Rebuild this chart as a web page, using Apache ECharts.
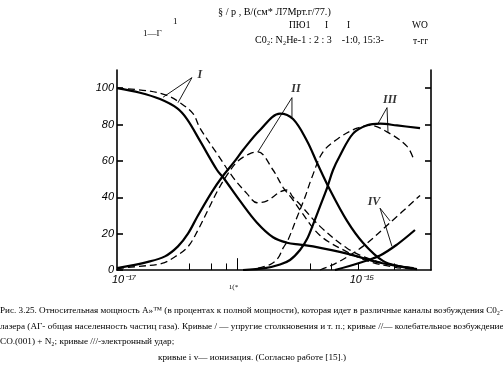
<!DOCTYPE html>
<html><head><meta charset="utf-8">
<script src="https://cdn.jsdelivr.net/npm/echarts@6/dist/echarts.min.js"></script>
<style>html,body{margin:0;padding:0;background:#fff}#c{width:503px;height:380px}</style>
</head><body><div id="c"></div>
<script>
// x values are given as log10 of the abscissa; y in percent
const solidI = [[-17.000,100],[-16.809,97.5],[-16.643,94],[-16.502,89],[-16.419,83],[-16.311,71],[-16.170,55],[-16.120,51],[-15.979,38],[-15.838,26],[-15.705,18],[-15.589,15],[-15.481,14],[-15.373,13],[-15.091,9],[-14.817,4],[-14.544,1]];
const dashedI = [[-17.000,100],[-16.751,98.6],[-16.585,96],[-16.477,92],[-16.369,86],[-16.311,78],[-16.170,64],[-16.037,51],[-15.921,42],[-15.838,37],[-15.755,38],[-15.647,43],[-15.589,44],[-15.539,40],[-15.481,36],[-15.315,24],[-15.091,12],[-14.900,6],[-14.651,2],[-14.510,1]];
const solidII = [[-17.000,1],[-16.743,4.5],[-16.602,7.5],[-16.494,13],[-16.411,20],[-16.328,30],[-16.212,43],[-16.129,51],[-16.021,60],[-15.954,66],[-15.813,77],[-15.647,86],[-15.539,83],[-15.423,71],[-15.340,59],[-15.232,44],[-15.091,27],[-14.959,15],[-14.793,5],[-14.651,2],[-14.510,0.5]];
const dashedII = [[-17.000,0.8],[-16.851,1.8],[-16.627,3.6],[-16.519,7.3],[-16.411,12.8],[-16.328,22],[-16.245,33],[-16.162,44],[-16.079,53],[-15.996,60],[-15.896,64],[-15.830,65],[-15.705,55],[-15.622,45.5],[-15.539,38.5],[-15.481,33],[-15.315,19],[-15.091,10],[-14.900,4.5],[-14.693,1.5],[-14.527,0.5]];
const solidIII = [[-15.954,0],[-15.772,1],[-15.647,3],[-15.564,5.5],[-15.481,11],[-15.423,17],[-15.373,25],[-15.315,35],[-15.257,45],[-15.207,55],[-15.149,63],[-15.041,75],[-14.925,79.6],[-14.817,80.5],[-14.676,79.5],[-14.485,78]];
const dashedIII = [[-15.830,1],[-15.730,3],[-15.664,6.5],[-15.622,12],[-15.581,16.5],[-15.506,29],[-15.440,40],[-15.382,51],[-15.290,65],[-15.149,73],[-15.008,78],[-14.900,79.5],[-14.734,75],[-14.593,68],[-14.544,62]];
const solidIV = [[-15.191,0],[-14.983,4],[-14.817,8],[-14.676,14],[-14.527,22]];
const dashedIV = [[-15.315,0],[-15.174,4],[-14.959,13],[-14.734,26],[-14.485,41]];
// leader lines for the curve labels: [end on curve, apex, end on curve]
const leaderI = [[-16.618,95],[-16.378,105.8],[-16.494,92]];
const leaderII = [[-15.830,65],[-15.548,94.8],[-15.548,84]];
const leaderIII = [[-14.834,80.5],[-14.759,89.3],[-14.751,76]];
const leaderIV = [[-14.734,27],[-14.817,34],[-14.718,13]];
const curveNames = ['I','II','III','IV'];
const yTicks = [0,20,40,60,80,100];
const yTicksRight = [20,40,60,80,100];
const xLabelExp = [-17,-16,-15];
const xMinorTicks = [4e-17,6e-17,8e-17,1e-16,4e-16,6e-16,1e-15,2e-15];
const xMinExp = -17, xMaxExp = -14.394;

const toXY = pts => pts.map(p => [Math.pow(10,p[0]), p[1]]);
const chart = echarts.init(document.getElementById('c'), null, {renderer:'canvas'});

const solidStyle = {color:'#000', width:2.2, type:'solid'};
const dashStyle = {color:'#000', width:1.3, type:[7,4]};
function curve(pts, style){
  return {type:'line', data:toXY(pts), smooth:0.35, symbol:'none', lineStyle:style, silent:true, z:3};
}
function leader(pts){
  return {type:'line', data:toXY(pts), smooth:false, symbol:'none', lineStyle:{color:'#000', width:0.9}, silent:true, z:2};
}
const labelOff = [[8,-3],[4,-9],[3,-8],[-6,-6]];
const labelSeries = {type:'scatter', silent:true, symbolSize:1, itemStyle:{color:'rgba(0,0,0,0)'}, z:5,
  data:[leaderI,leaderII,leaderIII,leaderIV].map((L,i)=>({value:toXY([L[1]])[0],
    label:{show:true, formatter:curveNames[i], position:'inside', offset:labelOff[i],
      fontFamily:'Liberation Serif', fontStyle:'italic', fontWeight:'bold', fontSize:12, color:'#000'}}))};

const serif = 'Liberation Serif';
function txt(x,y,t,size){
  return {type:'text', x:x, y:y, style:{text:t, font:(size||9)+'px "'+serif+'"', fill:'#000', verticalAlign:'middle'}};
}
const sI = curve(solidI, solidStyle);
sI.markLine = {silent:true, symbol:['none','none'], label:{show:false}, animation:false,
  lineStyle:{color:'#000', width:1, type:'solid'},
  data: xMinorTicks.map(t => [{coord:[t,0]},{coord:[t, Math.abs(Math.log10(t)+16)<1e-6 ? 6.5 : 3.6]}])};

chart.setOption({
  animation:false,
  backgroundColor:'#fff',
  grid:{left:117, right:72, top:70, bottom:110, containLabel:false},
  xAxis:{type:'log', logBase:10, min:Math.pow(10,xMinExp), max:Math.pow(10,xMaxExp),
    axisLine:{show:true, lineStyle:{color:'#000', width:1.6}},
    axisTick:{show:false}, splitLine:{show:false}, minorTick:{show:false}, minorSplitLine:{show:false},
    axisLabel:{show:true, customValues:xLabelExp.map(e=>Math.pow(10,e)), margin:4,
      formatter:(v)=>{const e=Math.round(Math.log10(v)); return e===-16 ? '{b|1(*}' : (e===-17 ? '{a|10⁻¹⁷}' : '{c|10⁻¹⁵}');},
      rich:{a:{fontFamily:'Liberation Sans', fontStyle:'italic', fontSize:11, color:'#000', padding:[0,0,0,14]},
            c:{fontFamily:'Liberation Sans', fontStyle:'italic', fontSize:11, color:'#000', padding:[0,0,0,8]},
            b:{fontFamily:serif, fontSize:7, color:'#000', padding:[10,0,0,-8]}}}},
  yAxis:[{type:'value', min:0, max:110, position:'left',
    axisLine:{show:true, lineStyle:{color:'#000', width:1.6}},
    axisTick:{show:true, inside:true, length:6, customValues:yTicks, lineStyle:{color:'#000', width:1.6}},
    axisLabel:{show:true, customValues:yTicks, margin:3, fontFamily:'Liberation Sans Narrow, Liberation Sans', fontStyle:'italic', fontSize:11, color:'#000'},
    splitLine:{show:false}},
   {type:'value', min:0, max:110, position:'right',
    axisLine:{show:true, onZero:false, lineStyle:{color:'#000', width:1.6}},
    axisTick:{show:true, inside:true, length:6, customValues:yTicksRight, lineStyle:{color:'#000', width:1.6}},
    axisLabel:{show:false}, splitLine:{show:false}}],
  series:[
    sI, curve(dashedI, dashStyle),
    curve(solidII, solidStyle), curve(dashedII, dashStyle),
    curve(solidIII, solidStyle), curve(dashedIII, dashStyle),
    curve(solidIV, solidStyle), curve(dashedIV, dashStyle),
    leader(leaderI), leader(leaderII), leader(leaderIII), leader(leaderIV),
    labelSeries
  ],
  graphic:[
    txt(218,12,'§ / р , В/(см* Л7Мрт.г/77.)',10.2),
    txt(173,22,'1',9),
    txt(143,34,'1—Г',9),
    txt(289,25,'ПЮ1',9.5),
    txt(325,25,'I',9.5),
    txt(347,25,'I',9.5),
    txt(412,25,'WO',9.5),
    txt(255,40,'C0₂: N₂He-1 : 2 : 3    -1:0, 15:3-',10),
    txt(413,41,'т-гг',9.5),
    txt(0,311,'Рис. 3.25. Относительная мощность А»™ (в процентах к полной мощности), которая идет в различные каналы возбуждения С0₂-',9.15),
    txt(0,327,'лазера (АГ- общая населенность частиц газа). Кривые / — упругие столкновения и т. п.; кривые //— колебательное возбуждение',9.2),
    txt(0,342,'CO.(001) + N₂; кривые ///-электронный удар;',9.2),
    txt(158,358,'кривые i v— ионизация. (Согласно работе [15].)',9.2)
  ]
});
</script></body></html>
